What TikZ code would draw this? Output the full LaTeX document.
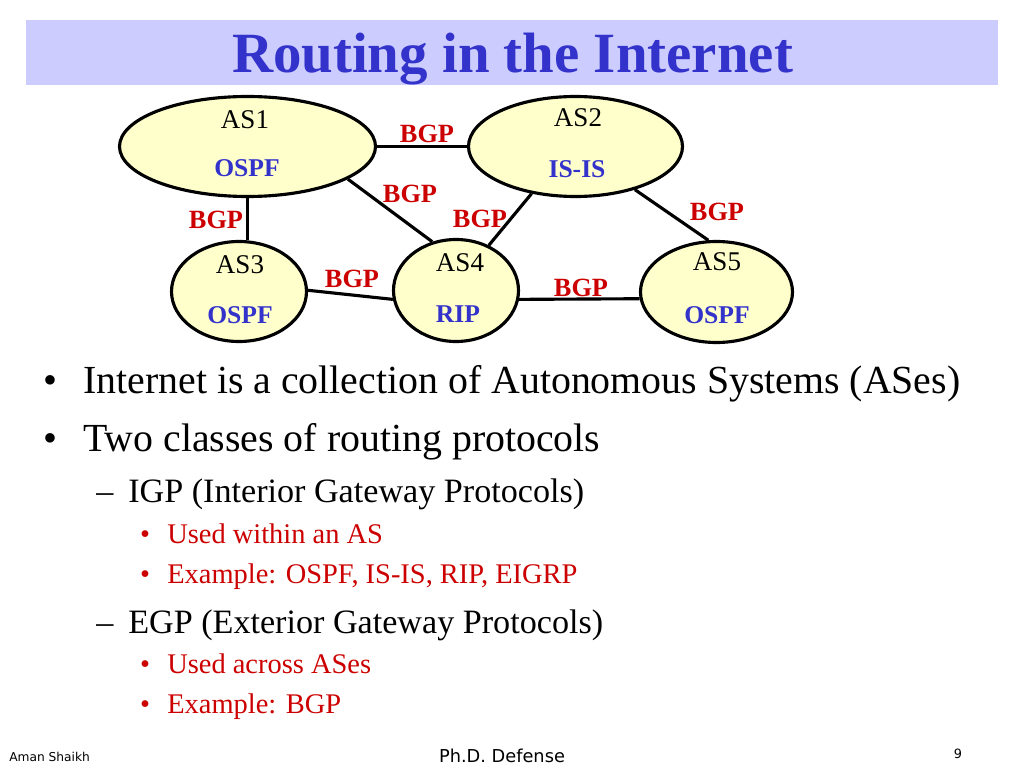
\documentclass[tikz,border=0pt]{standalone}
\usepackage{fontspec}
\setmainfont{Liberation Serif}
\newfontfamily\footfont{DejaVu Sans}
\usetikzlibrary{shapes.geometric}
\definecolor{titleblue}{HTML}{3333CC}
\definecolor{barblue}{HTML}{CCCCFF}
\definecolor{bgpred}{HTML}{CC0000}
\definecolor{asfill}{HTML}{FFFFCC}
\newcommand\pxu{0.703125pt}
\begin{document}
\begin{tikzpicture}[x=0.703125pt,y=-0.703125pt,
  asnode/.style={ellipse, draw=black, line width=2.2pt, fill=asfill, inner sep=0pt},
  link/.style={line width=2.2pt},
  asname/.style={font=\fontsize{19}{22}\selectfont, inner sep=0pt},
  proto/.style={font=\fontsize{18}{21}\selectfont\bfseries, text=titleblue, inner sep=0pt},
  bgp/.style={font=\fontsize{18.5}{21}\selectfont\bfseries, text=bgpred, inner sep=0pt},
  lone/.style={font=\fontsize{28}{34}\selectfont, inner sep=0pt},
  ltwo/.style={font=\fontsize{24}{29}\selectfont, inner sep=0pt},
  lthree/.style={font=\fontsize{20}{24}\selectfont, text=bgpred, inner sep=0pt},
  foot/.style={inner sep=0pt}]
\useasboundingbox (0,0) rectangle (1024,768);
\fill[white] (0,0) rectangle (1024,768);
% title bar
\fill[barblue] (26,20) rectangle (998,85);
\node[anchor=base, inner sep=0pt, text=titleblue, font=\fontsize{40}{48}\selectfont\bfseries] (title) at (512.5,72.5) {Routing in the Internet};
% AS ellipses
\node[asnode, minimum width=256*\pxu, minimum height=100*\pxu] (as1) at (247.5,146.5) {};
\node[asnode, minimum width=214*\pxu, minimum height=100*\pxu] (as2) at (575.5,146.5) {};
\node[asnode, minimum width=135*\pxu, minimum height=100*\pxu] (as3) at (239,291.5) {};
\node[asnode, minimum width=125*\pxu, minimum height=102*\pxu] (as4) at (456,290.5) {};
\node[asnode, minimum width=152*\pxu, minimum height=101*\pxu] (as5) at (716.5,292) {};
% links
\draw[link] (as1.east) -- (as2.west);
\draw[link] (as1.south) -- (as3.north -| as1.south);
\draw[link] (as1.-18) -- (as4.116);
\draw[link] (as2.227) -- (as4.54);
\draw[link] (as2.-36) -- (as5.99);
\draw[link] (as3.1) -- (as4.188);
\draw[link] (as4.-8) -- (as5.185);
% AS texts
\node[asname] (t1) at (245,119.5) {AS1};
\node[proto] (p1) at (247,168.5) {OSPF};
\node[asname] (t2) at (578,118) {AS2};
\node[proto] (p2) at (577,169) {IS-IS};
\node[asname] (t3) at (240,264.5) {AS3};
\node[proto] (p3) at (240,315) {OSPF};
\node[asname] (t4) at (460,263) {AS4};
\node[proto] (p4) at (458,314) {RIP};
\node[asname] (t5) at (717,262) {AS5};
\node[proto] (p5) at (717,315) {OSPF};
% BGP labels
\node[bgp] (b12) at (427,134) {BGP};
\node[bgp] (b14) at (410,194) {BGP};
\node[bgp] (b13) at (216,219.5) {BGP};
\node[bgp] (b24) at (480,219) {BGP};
\node[bgp] (b25) at (717,212) {BGP};
\node[bgp] (b34) at (352,279) {BGP};
\node[bgp] (b45) at (581,288) {BGP};
% bullets
\node[lone, anchor=base] (d1) at (50,393) {•};
\node[lone, anchor=base west] (l1) at (83,393) {Internet is a collection of Autonomous Systems (ASes)};
\node[lone, anchor=base] (d2) at (50,451) {•};
\node[lone, anchor=base west] (l2) at (83,451) {Two classes of routing protocols};
\node[ltwo, anchor=base] (d3) at (105,502) {–};
\node[ltwo, anchor=base west] (l3) at (128,502) {IGP (Interior Gateway Protocols)};
\node[lthree, anchor=base] (d4) at (145,543) {•};
\node[lthree, anchor=base west] (l4) at (167,543) {Used within an AS};
\node[lthree, anchor=base] (d5) at (145,583) {•};
\node[lthree, anchor=base west] (l5) at (167,583) {Example: OSPF, IS-IS, RIP, EIGRP};
\node[ltwo, anchor=base] (d6) at (105,633) {–};
\node[ltwo, anchor=base west] (l6) at (128,633) {EGP (Exterior Gateway Protocols)};
\node[lthree, anchor=base] (d7) at (145,673) {•};
\node[lthree, anchor=base west] (l7) at (167,673) {Used across ASes};
\node[lthree, anchor=base] (d8) at (145,713) {•};
\node[lthree, anchor=base west] (l8) at (167,713) {Example: BGP};
% footer
\node[foot, anchor=west, font=\footfont\fontsize{8.6}{10}\selectfont] (author) at (9,757) {Aman Shaikh};
\node[foot, font=\footfont\fontsize{12.5}{15}\selectfont] (event) at (502,756) {Ph.D. Defense};
\node[foot, font=\footfont\fontsize{9}{11}\selectfont] (page) at (958,754) {9};
\end{tikzpicture}
\end{document}
